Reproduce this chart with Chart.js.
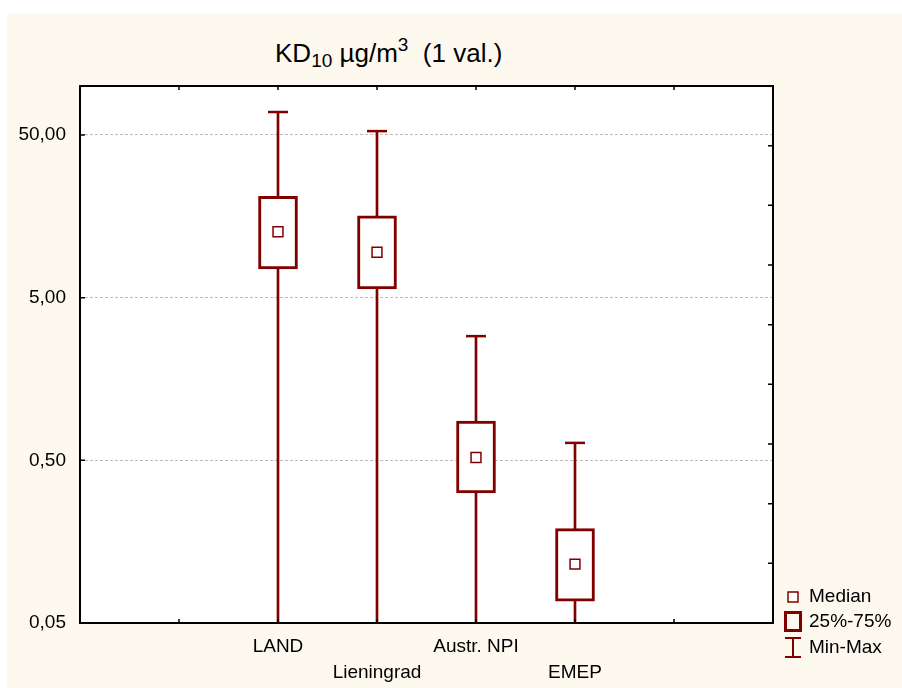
<!DOCTYPE html>
<html>
<head>
<meta charset="utf-8">
<script src="https://cdn.jsdelivr.net/npm/chart.js@4"></script>
<style>
  body { margin: 0; background: #fff; }
  #panel { position: absolute; left: 7px; top: 14px; width: 895px; height: 674px; background: #fef9ef; }
  #wrap { position: absolute; left: 0; top: 0; width: 902px; height: 688px; }
  #title { position: absolute; left: 275px; top: 41px; font: 26px "Liberation Sans", Arial, sans-serif; line-height: 25px; white-space: pre; color: #000; }
  #title .sub { font-size: 19px; position: relative; top: 5px; }
  #title .sup { font-size: 19px; position: relative; top: -11px; }
</style>
</head>
<body>
<div id="panel"></div>
<div id="title">KD<span class="sub">10</span> µg/m<span class="sup">3</span>  (1 val.)</div>
<div id="wrap"><canvas id="box-chart" width="902" height="688"></canvas></div>
<script>
  const categories = ["LAND", "Lieningrad", "Austr. NPI", "EMEP"];
  const catPos = [2, 3, 4, 5];            // slot on the x axis (0..7)
  const minVals    = [0.05, 0.05, 0.05, 0.05];
  const q1Vals     = [7.5, 5.65, 0.315, 0.068];
  const medianVals = [12.7, 9.5, 0.52, 0.115];
  const q3Vals     = [21.0, 15.9, 0.87, 0.19];
  const maxVals    = [69.2, 52.8, 2.9, 0.64];
  const yTicks = [0.05, 0.5, 5, 50];
  const legendLabels = ["Median", "25%-75%", "Min-Max"];

  const red = "#800000";
  const fontFam = "'Liberation Sans', Arial, sans-serif";

  // white plot area, frame + inward tick marks like the original
  const framePlugin = {
    id: "frame",
    beforeDraw(chart) {
      const { ctx, chartArea: a } = chart;
      ctx.save();
      ctx.fillStyle = "#fff";
      ctx.fillRect(a.left, a.top, a.right - a.left, a.bottom - a.top);
      ctx.restore();
    },
    afterDatasetsDraw(chart) {
      const { ctx, chartArea: a, scales } = chart;
      ctx.save();
      ctx.strokeStyle = "#000";
      ctx.lineWidth = 2;
      ctx.strokeRect(a.left, a.top, a.right - a.left, a.bottom - a.top);
      ctx.lineWidth = 1.5;
      ctx.beginPath();
      for (let v = 1; v < 7; v++) {
        const x = scales.x.getPixelForValue(v);
        ctx.moveTo(x, a.top); ctx.lineTo(x, a.top + 4);
        ctx.moveTo(x, a.bottom); ctx.lineTo(x, a.bottom - 4);
      }
      yTicks.slice(1).forEach(v => {
        const y = scales.y.getPixelForValue(v);
        ctx.moveTo(a.left, y); ctx.lineTo(a.left + 5, y);
      });
      for (let k = 1; k < 9; k++) {
        const y = scales.y.getPixelForDecimal(k / 9);
        ctx.moveTo(a.right, y); ctx.lineTo(a.right - 5, y);
      }
      ctx.stroke();
      ctx.restore();
    }
  };

  // legend at bottom right
  const legendPlugin = {
    id: "boxLegend",
    afterDraw(chart) {
      const ctx = chart.ctx;
      ctx.save();
      ctx.strokeStyle = red;
      ctx.fillStyle = "#fff";
      ctx.lineWidth = 1.5;
      ctx.fillRect(788, 592, 10, 10);
      ctx.strokeRect(788, 592, 10, 10);
      ctx.lineWidth = 3;
      ctx.strokeRect(785.5, 612.5, 15, 18);
      ctx.lineWidth = 2;
      ctx.beginPath();
      ctx.moveTo(793, 638); ctx.lineTo(793, 657);
      ctx.moveTo(785, 638); ctx.lineTo(801, 638);
      ctx.moveTo(785, 657); ctx.lineTo(801, 657);
      ctx.stroke();
      ctx.fillStyle = "#000";
      ctx.font = "19px " + fontFam;
      ctx.textBaseline = "middle";
      ctx.fillText(legendLabels[0], 809, 597);
      ctx.fillText(legendLabels[1], 809, 622);
      ctx.fillText(legendLabels[2], 809, 648);
      ctx.restore();
    }
  };

  new Chart("box-chart", {
    type: "bar",
    data: {
      datasets: [
        {
          type: "line", label: "Median", order: 0, showLine: false,
          data: catPos.map((x, i) => ({ x: x, y: medianVals[i] })),
          pointStyle: "rect", pointRadius: 7, pointBorderWidth: 1.5,
          pointBackgroundColor: "#fff", pointBorderColor: red
        },
        {
          type: "line", label: "cap", order: 1, showLine: false,
          data: catPos.map((x, i) => ({ x: x, y: maxVals[i] })),
          pointStyle: "line", pointRadius: 10, pointBorderWidth: 2.5, pointBorderColor: red
        },
        {
          type: "bar", label: "25%-75%", order: 2, grouped: false,
          data: catPos.map((x, i) => ({ x: x, y: [q1Vals[i], q3Vals[i]] })),
          backgroundColor: "#fff", borderColor: red, borderWidth: 3, borderSkipped: false,
          barThickness: 39
        },
        {
          type: "bar", label: "Min-Max", order: 3, grouped: false,
          data: catPos.map((x, i) => ({ x: x, y: [minVals[i], maxVals[i]] })),
          backgroundColor: red, borderWidth: 0, barThickness: 2
        }
      ]
    },
    options: {
      responsive: false,
      animation: false,
      layout: { padding: { top: 86, right: 129, left: 0, bottom: 0 } },
      plugins: { legend: { display: false }, tooltip: { enabled: false } },
      scales: {
        x: {
          type: "linear", min: 0, max: 7, offset: false,
          afterBuildTicks: s => { s.ticks = [0, 1, 2, 3, 4, 5, 6, 7].map(v => ({ value: v })); },
          afterFit: s => { s.height = 65; },
          grid: { display: false, offset: false },
          border: { display: false },
          ticks: {
            autoSkip: false, maxRotation: 0, padding: 3, color: "#000",
            font: { family: fontFam, size: 19, lineHeight: 1.37 },
            callback: v => {
              const i = catPos.indexOf(v);
              if (i < 0) return "";
              return i % 2 ? ["", categories[i]] : categories[i];
            }
          }
        },
        y: {
          type: "logarithmic", min: 0.05, max: 100,
          afterBuildTicks: s => { s.ticks = yTicks.map(v => ({ value: v })); },
          afterFit: s => { s.width = 80; },
          grid: {
            drawTicks: false,
            color: c => (c.tick && c.tick.value === 0.05) ? "rgba(0,0,0,0)" : "#bdbdbd",
            lineWidth: 1
          },
          border: { display: false, dash: [3, 2] },
          ticks: {
            padding: 14, color: "#000",
            font: { family: fontFam, size: 19 },
            callback: v => v.toFixed(2).replace(".", ",")
          }
        }
      }
    },
    plugins: [framePlugin, legendPlugin]
  });
</script>
</body>
</html>
